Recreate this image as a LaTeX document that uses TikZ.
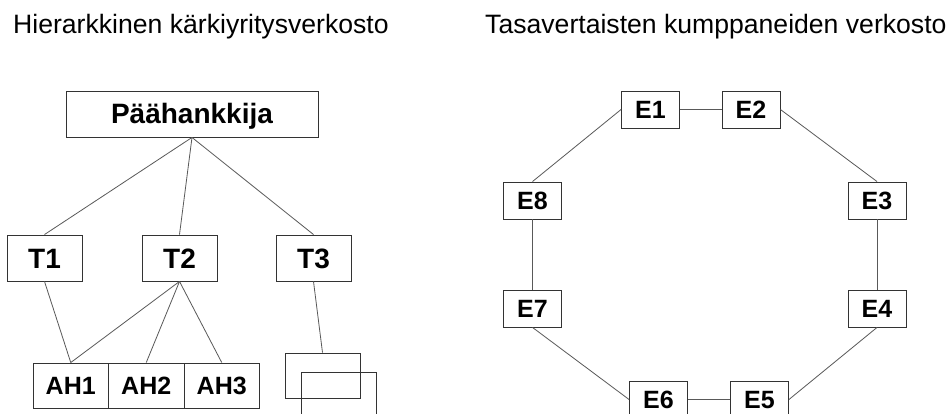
\documentclass[tikz,border=0pt]{standalone}
\usepackage{fontspec}
\setmainfont{Liberation Sans}
\begin{document}
\begin{tikzpicture}[x=1pt,y=-1pt,
  box/.style={draw=black!80,line width=0.9pt,inner sep=0pt,minimum width=58pt,minimum height=37pt,
    font=\fontsize{25}{25}\selectfont\bfseries,text height=17.9pt,text depth=0pt},
  bigbox/.style={box,minimum width=75pt,minimum height=46pt,font=\fontsize{28}{28}\selectfont\bfseries,text height=20pt},
  ahbox/.style={box,minimum width=75.5pt,minimum height=45pt},
  emptybox/.style={draw=black!80,line width=0.9pt,inner sep=0pt,minimum width=75pt,minimum height=45pt},
  conn/.style={draw=black!65,line width=0.8pt},
  title/.style={anchor=base west,inner sep=0pt,font=\fontsize{26.6}{26.6}\selectfont}]
\clip (0,0) rectangle (947,414);
\fill[white] (0,0) rectangle (947,414);
% titles
\node[title] (t1) at (13,34) {Hierarkkinen kärkiyritysverkosto};
\node[title] (t2) at (485,34) {Tasavertaisten kumppaneiden verkosto};
% hierarchy
\node[bigbox,minimum width=252pt] (P) at (192,114) {Päähankkija};
\node[bigbox] (T1) at (44.5,258) {T1};
\node[bigbox] (T2) at (179.5,258) {T2};
\node[bigbox] (T3) at (313.5,258) {T3};
\node[ahbox] (AH1) at (70.75,385.5) {AH1};
\node[ahbox] (AH2) at (146.25,385.5) {AH2};
\node[ahbox] (AH3) at (221.75,385.5) {AH3};
\node[emptybox] (S1) at (322.5,375.5) {};
\node[emptybox] (S2) at (338.5,394.5) {};
\draw[conn] (P.south) -- (T1.north);
\draw[conn] (P.south) -- (T2.north);
\draw[conn] (P.south) -- (T3.north);
\draw[conn] (T1.south) -- (AH1.north);
\draw[conn] (T2.south) -- (AH1.north);
\draw[conn] (T2.south) -- (AH2.north);
\draw[conn] (T2.south) -- (AH3.north);
\draw[conn] (T3.south) -- (S1.north);
% ring
\node[box] (E1) at (650.5,109.5) {E1};
\node[box] (E2) at (751,109.5) {E2};
\node[box] (E3) at (877,200.5) {E3};
\node[box] (E4) at (877,308.5) {E4};
\node[box] (E5) at (759.5,399.5) {E5};
\node[box] (E6) at (658.5,399.5) {E6};
\node[box] (E7) at (532.5,308.5) {E7};
\node[box] (E8) at (532.5,200.5) {E8};
\draw[conn] (E1.east) -- (E2.west);
\draw[conn] (E2.east) -- (E3.north);
\draw[conn] (E3.south) -- (E4.north);
\draw[conn] (E4.south) -- (E5.east);
\draw[conn] (E5.west) -- (E6.east);
\draw[conn] (E6.west) -- (E7.south);
\draw[conn] (E7.north) -- (E8.south);
\draw[conn] (E8.north) -- (E1.west);
\end{tikzpicture}
\end{document}
